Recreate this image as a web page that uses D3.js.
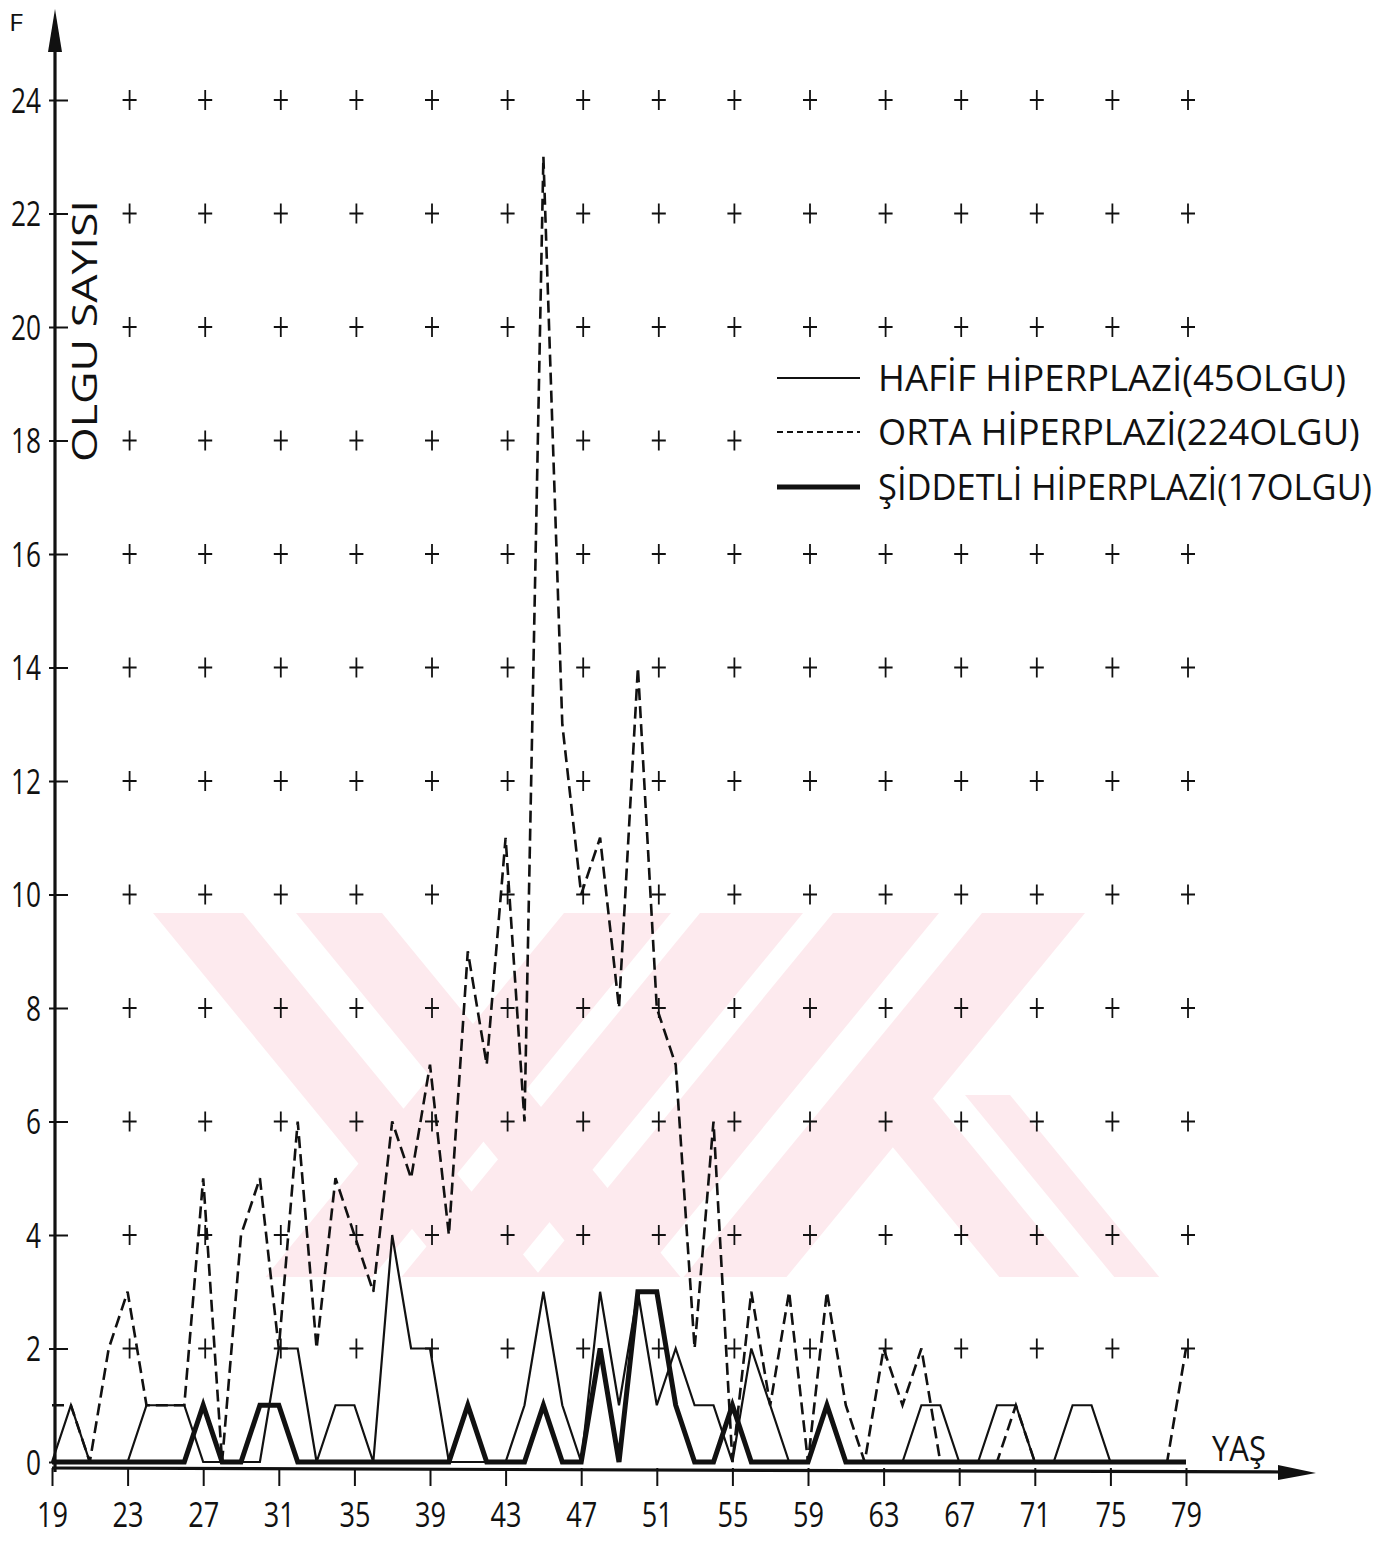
<!DOCTYPE html>
<html>
<head>
<meta charset="utf-8">
<script src="https://cdn.jsdelivr.net/npm/d3@7"></script>
<style>
  body { margin: 0; background: #fff; }
  svg { display: block; }
  text { font-family: "Open Sans", "DejaVu Sans", sans-serif; font-weight: 400; fill: #111; }
</style>
</head>
<body>
<div id="chart"></div>
<script>
// Ages (YAŞ) and number of cases (OLGU SAYISI) per age
var ages = [19,20,21,22,23,24,25,26,27,28,29,30,31,32,33,34,35,36,37,38,39,40,
            41,42,43,44,45,46,47,48,49,50,51,52,53,54,55,56,57,58,59,60,
            61,62,63,64,65,66,67,68,69,70,71,72,73,74,75,76,77,78,79];

// HAFİF HİPERPLAZİ (thin solid)
var hafif = [0,1,0,0,0,1,1,1,0,0,0,0,2,2,0,1,1,0,4,2,2,0,
             0,0,0,1,3,1,0,3,1,3,1,2,1,1,0,2,1,0,0,1,
             0,0,0,0,1,1,0,0,1,1,0,0,1,1,0,0,0,0,0];

// ORTA HİPERPLAZİ (dashed)
var orta = [1,1,0,2,3,1,1,1,5,0,4,5,2,6,2,5,4,3,6,5,7,4,
            9,7,11,6,23,13,10,11,8,14,8,7,2,6,0,3,1,3,0,3,
            1,0,2,1,2,0,0,0,0,1,0,0,0,0,0,0,0,0,2];

// ŞİDDETLİ HİPERPLAZİ (thick solid)
var siddetli = [0,0,0,0,0,0,0,0,1,0,0,1,1,0,0,0,0,0,0,0,0,0,
                1,0,0,0,1,0,0,2,0,3,3,1,0,0,1,0,0,0,0,1,
                0,0,0,0,0,0,0,0,0,0,0,0,0,0,0,0,0,0,0];

var xTicks = [19,23,27,31,35,39,43,47,51,55,59,63,67,71,75,79];
var yTicks = [0,2,4,6,8,10,12,14,16,18,20,22,24];
var gridX = [23,27,31,35,39,43,47,51,55,59,63,67,71,75,79];
var gridY = [2,4,6,8,10,12,14,16,18,20,22,24];

var legendLabels = ["HAFİF HİPERPLAZİ(45OLGU)", "ORTA HİPERPLAZİ(224OLGU)", "ŞİDDETLİ HİPERPLAZİ(17OLGU)"];

var svgWidth = 1396;
var svgHeight = 1541;

var svg = d3.select("#chart")
  .append("svg")
  .attr("width", svgWidth)
  .attr("height", svgHeight);

var xScale = d3.scaleLinear().domain([19, 79]).range([52, 1186]);
var yScale = d3.scaleLinear().domain([0, 24]).range([1462, 100]);

// squeeze a text horizontally so it spans a given width
function fitText(sel, x, y, width, rotate) {
  var natural = sel.node().getComputedTextLength();
  var sx = width / natural;
  sel.attr("x", 0).attr("y", 0)
    .attr("transform", `translate(${x},${y})` + (rotate ? ` rotate(${rotate})` : "") + ` scale(${sx},1)`);
}

// faint pink watermark in the background
var wm = svg.append("g").attr("fill", "#fdeaee");
function band(a, b, yTop, yBot, slope) {
  var h = (yBot - yTop) * slope;
  return [[a, yTop], [b, yTop], [b + h, yBot], [a + h, yBot]];
}
var bands = [
  band(153, 243, 913, 1277, 0.82), band(296, 382, 913, 1277, 0.82),
  band(564, 671, 913, 1277, -0.82), band(700, 803, 913, 1277, -0.82),
  band(833, 939, 913, 1277, -0.82), band(982, 1085, 913, 1277, -0.82),
  band(850, 930, 1095, 1277, 0.82), band(965, 1010, 1095, 1277, 0.82)
];
wm.selectAll("polygon").data(bands).enter().append("polygon")
  .attr("points", d => d.map(p => p.join(",")).join(" "));

// grid of small crosses
var crosses = [];
gridY.forEach(function(gy) {
  gridX.forEach(function(gx) {
    if (!(gy === 18 && gx >= 59)) crosses.push([gx, gy]);
  });
});
svg.append("g").selectAll("path").data(crosses).enter().append("path")
  .attr("d", d => `M${xScale(d[0]) + 2 - 7},${yScale(d[1])}h14M${xScale(d[0]) + 2},${yScale(d[1]) - 10}v20`)
  .attr("stroke", "#111")
  .attr("stroke-width", 1.8)
  .attr("fill", "none");

// y axis
var yAxis = d3.axisLeft(yScale).tickValues(yTicks).tickSizeInner(-14).tickSizeOuter(0).tickPadding(0);
var gy = svg.append("g").attr("transform", "translate(55,0)").call(yAxis);
gy.select(".domain").remove();
gy.selectAll(".tick line").attr("x1", -6).attr("x2", 13).attr("stroke", "#111").attr("stroke-width", 2);
gy.selectAll(".tick text")
  .attr("x", -14)
  .attr("dy", "0.36em")
  .attr("font-size", 34)
  .attr("font-family", null)
  .attr("fill", "#111")
  .attr("textLength", d => String(d).length * 15)
  .attr("lengthAdjust", "spacingAndGlyphs");

svg.append("line")
  .attr("x1", 55).attr("x2", 55).attr("y1", 1472).attr("y2", 40)
  .attr("stroke", "#111").attr("stroke-width", 3.2);
svg.append("path").attr("d", "M55,9L48,52L62,52Z").attr("fill", "#111");
svg.append("text").attr("x", 9).attr("y", 31).attr("font-size", 24)
  .attr("textLength", 14).attr("lengthAdjust", "spacingAndGlyphs").text("F");

// x axis
var xAxis = d3.axisBottom(xScale).tickValues(xTicks).tickSizeInner(18).tickSizeOuter(0).tickPadding(17);
var gx = svg.append("g").attr("transform", `translate(0,${yScale(0) + 6})`).call(xAxis);
gx.select(".domain").remove();
gx.selectAll(".tick line").attr("stroke", "#111").attr("stroke-width", 2);
gx.selectAll(".tick text")
  .attr("font-size", 34)
  .attr("font-family", null)
  .attr("fill", "#111")
  .attr("textLength", 31)
  .attr("lengthAdjust", "spacingAndGlyphs");

svg.append("line")
  .attr("x1", 52).attr("x2", 1285).attr("y1", yScale(0) + 6).attr("y2", yScale(0) + 10)
  .attr("stroke", "#111").attr("stroke-width", 3.2);
svg.append("path").attr("d", `M1316,${yScale(0) + 11}L1278,${yScale(0) + 3}L1278,${yScale(0) + 18}Z`).attr("fill", "#111");
svg.append("text").attr("x", 1212).attr("y", 1461).attr("font-size", 34)
  .attr("textLength", 54).attr("lengthAdjust", "spacingAndGlyphs").text("YAŞ");

// y axis title
var yTitle = svg.append("text")
  .attr("text-anchor", "middle")
  .attr("font-size", 35)
  .text("OLGU SAYISI");
fitText(yTitle, 97, 331, 262, -90);

// series lines
var line = function(values) {
  return d3.line()
    .x((d, i) => xScale(ages[i]))
    .y(d => yScale(d))(values);
};

svg.append("path").attr("d", line(orta))
  .attr("fill", "none").attr("stroke", "#111").attr("stroke-width", 2.6)
  .attr("stroke-dasharray", "12,6").attr("stroke-linejoin", "miter");
svg.append("path").attr("d", line(hafif))
  .attr("fill", "none").attr("stroke", "#111").attr("stroke-width", 2.2)
  .attr("stroke-linejoin", "miter");
svg.append("path").attr("d", line(siddetli))
  .attr("fill", "none").attr("stroke", "#111").attr("stroke-width", 5)
  .attr("stroke-linejoin", "miter");

// legend
var legendY = [378, 432, 487];
var legendStyles = [
  {w: 2.2, dash: null},
  {w: 2, dash: "6,4"},
  {w: 5, dash: null}
];
var legendWidths = [468, 482, 494];
legendLabels.forEach(function(lbl, i) {
  svg.append("line")
    .attr("x1", 777).attr("x2", 860)
    .attr("y1", legendY[i]).attr("y2", legendY[i])
    .attr("stroke", "#111")
    .attr("stroke-width", legendStyles[i].w)
    .attr("stroke-dasharray", legendStyles[i].dash);
  var t = svg.append("text")
    .attr("font-size", 37)
    .text(lbl);
  fitText(t, 878, legendY[i] + 13, legendWidths[i]);
});
</script>
</body>
</html>
